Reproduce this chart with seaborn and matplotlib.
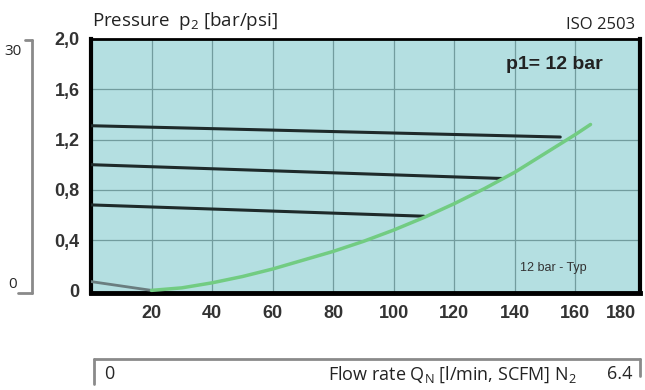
import matplotlib
matplotlib.use("Agg")
import matplotlib.pyplot as plt
import seaborn as sns
import pandas as pd

# Flow rate [l/min] vs outlet pressure p2 [bar]
flow_green = [20, 30, 40, 50, 60, 70, 80, 90, 100, 110, 120, 130, 140, 150, 160, 165]
p2_green = [0.0, 0.02, 0.06, 0.11, 0.17, 0.24, 0.31, 0.39, 0.48, 0.58, 0.69, 0.81, 0.94, 1.09, 1.24, 1.32]

flow_set = [0, 155]
p2_set1 = [1.31, 1.22]
flow_set2 = [0, 136]
p2_set2 = [1.0, 0.89]
flow_set3 = [0, 110]
p2_set3 = [0.68, 0.59]
flow_gray = [0, 20]
p2_gray = [0.07, 0.0]

xticks = [20, 40, 60, 80, 100, 120, 140, 160, 180]
yticks = [0, 0.4, 0.8, 1.2, 1.6, 2.0]
ylabels = ["0", "0,4", "0,8", "1,2", "1,6", "2,0"]

sns.set_style("white")
plt.rcParams['font.family'] = ['Liberation Sans', 'DejaVu Sans']

fig = plt.figure(figsize=(6.45, 3.9), dpi=100)
ax = fig.add_axes([0.141, 0.249, 0.852, 0.651])
ax.set_facecolor("#b4dfe1")

for x in xticks[:-1]:
    ax.axvline(x, color="#729c9e", lw=0.9, zorder=1)
for y in yticks[1:-1]:
    ax.axhline(y, color="#729c9e", lw=0.9, zorder=1)

sns.lineplot(x=flow_gray, y=p2_gray, color="#6a7d7f", lw=2, ax=ax, zorder=3)
for fx, fy in [(flow_set, p2_set1), (flow_set2, p2_set2), (flow_set3, p2_set3)]:
    sns.lineplot(x=fx, y=fy, color="#1e2a2a", lw=2.2, ax=ax, zorder=3)
sns.lineplot(x=flow_green, y=p2_green, color="#72cc82", lw=2.5, ax=ax, zorder=4)

ax.set_xlim(0, 181.5)
ax.set_ylim(-0.02, 2.0)
ax.set_xticks(xticks)
ax.set_xticklabels([str(v) for v in xticks], fontsize=13, fontweight="bold", color="#333333")
ax.set_yticks(yticks)
ax.set_yticklabels(ylabels, fontsize=13, fontweight="bold", color="#333333")
ax.tick_params(length=0, pad=8)
ax.tick_params(axis="x", pad=9)
ax.get_xticklabels()[-1].set_horizontalalignment("right")

for side, w in [("left", 3), ("bottom", 3.5), ("top", 2), ("right", 3)]:
    ax.spines[side].set_visible(True)
    ax.spines[side].set_color("black")
    ax.spines[side].set_linewidth(w)

ax.text(0.844, 0.90, "p1= 12 bar", transform=ax.transAxes, ha="center", va="center",
        fontsize=14, fontweight="bold", color="#222222")
ax.text(0.842, 0.10, "12 bar - Typ", transform=ax.transAxes, ha="center", va="center",
        fontsize=9, color="#333333")

fig.text(0.143, 0.947, r"Pressure  p$_\mathregular{2}$ [bar/psi]", ha="left", va="center",
         fontsize=13.5, family="Open Sans", color="#222222")
fig.text(0.985, 0.937, "ISO 2503", ha="right", va="center",
         fontsize=12, family="Open Sans", color="#222222")

# psi bracket on the left
gray = "#8a8a8a"
fig.add_artist(plt.Line2D([0.05, 0.05], [0.897, 0.249], color=gray, lw=2))
fig.add_artist(plt.Line2D([0.038, 0.05], [0.897, 0.897], color=gray, lw=2))
fig.add_artist(plt.Line2D([0.028, 0.05], [0.249, 0.249], color=gray, lw=2))
fig.text(0.02, 0.868, "30", ha="center", va="center", fontsize=11, family="Open Sans")
fig.text(0.02, 0.27, "0", ha="center", va="center", fontsize=11, family="Open Sans")

# SCFM bracket at bottom
fig.add_artist(plt.Line2D([0.146, 0.992], [0.079, 0.079], color=gray, lw=2))
fig.add_artist(plt.Line2D([0.146, 0.146], [0.079, 0.015], color=gray, lw=2))
fig.add_artist(plt.Line2D([0.992, 0.992], [0.079, 0.035], color=gray, lw=2))
fig.text(0.17, 0.04, "0", ha="center", va="center", fontsize=13, family="Open Sans")
fig.text(0.895, 0.04, r"Flow rate Q$_\mathregular{N}$ [l/min, SCFM] N$_\mathregular{2}$", ha="right", va="center",
         fontsize=13, family="Open Sans", color="#222222")
fig.text(0.98, 0.04, "6.4", ha="right", va="center", fontsize=13, family="Open Sans")

fig.savefig("out.png", dpi=100, facecolor="white")
